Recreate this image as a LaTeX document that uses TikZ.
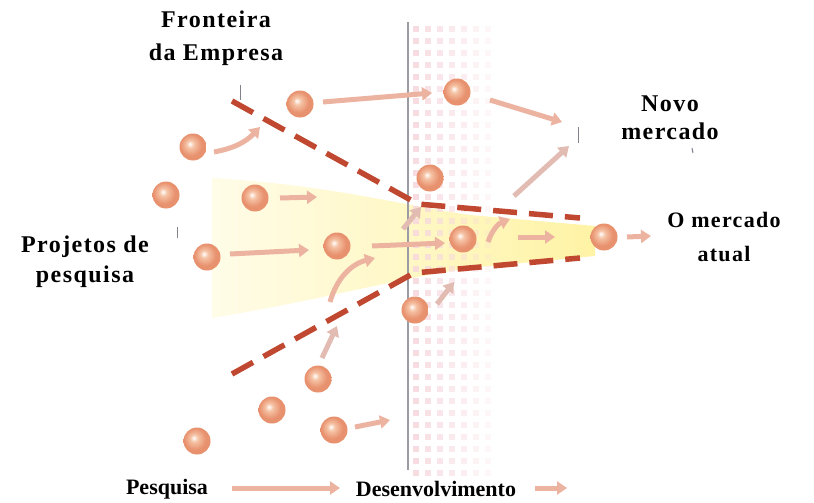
\documentclass[tikz,border=0pt]{standalone}
\usepackage{fontspec}
\setmainfont{Liberation Serif}
\newfontfamily\labfont[LetterSpace=6]{Liberation Serif}
\usetikzlibrary{arrows.meta}
\definecolor{orbedge}{RGB}{232,145,110}
\definecolor{orbmid}{RGB}{245,195,165}
\definecolor{arr}{RGB}{236,180,160}
\definecolor{arrg}{RGB}{226,188,178}
\definecolor{dash}{RGB}{192,72,48}
\definecolor{band}{RGB}{246,216,222}
\definecolor{tick}{RGB}{130,130,140}
\definecolor{yl}{RGB}{255,252,232}
\definecolor{yr}{RGB}{255,243,165}
\pgfdeclareradialshading{orb}{\pgfpoint{-6bp}{6bp}}{color(0bp)=(white); color(7bp)=(orbmid); color(20bp)=(orbedge); color(25bp)=(orbedge); color(50bp)=(orbedge)}
\tikzset{
  orbnode/.style={circle, minimum size=27pt, inner sep=0pt, shading=orb},
  flow/.style={line width=5pt, draw=arr, -{Triangle[length=10pt,width=13pt]}},
  flowg/.style={flow, draw=arrg},
  border/.style={line width=5.5pt, draw=dash, dash pattern=on 24pt off 12pt},
  lab/.style={font=\labfont\fontsize{24}{27}\selectfont\bfseries, inner sep=0pt, align=center},
  lab2/.style={font=\fontsize{22}{26}\selectfont\bfseries, inner sep=0pt, align=center},
  tickmark/.style={draw=tick, line width=1pt}
}
\begin{document}
\begin{tikzpicture}[x=1pt,y=-1pt]
\useasboundingbox (0,0) rectangle (814,503);
\fill[white] (0,0) rectangle (814,503);
% yellow funnel
\shade[left color=yl, right color=yr] (212,178) .. controls (330,185) and (400,205) .. (470,215) -- (595,226) -- (595,256) -- (470,268) .. controls (400,278) and (320,300) .. (212,318) -- cycle;
% dotted band
\foreach \i in {0,...,6}{
  \pgfmathsetmacro{\op}{0.85-0.11*\i}
  \foreach \j in {0,...,37}{
    \fill[band, opacity=\op] (413+12*\i,26+12*\j) rectangle ++(6,6);
  }
}
% frontier line
\draw[draw=tick!80, line width=1.3pt] (408,22) -- (408,470);
% ticks (leader marks)
\draw[tickmark] (240,85) -- (240,100);
\draw[tickmark] (177,227) -- (177,238);
\draw[tickmark] (578,127) -- (578,143);
\draw[tickmark] (692,148) -- (693,153);
% balls
\node[orbnode] (b1) at (300,104) {};
\node[orbnode] (b2) at (457,92) {};
\node[orbnode] (b3) at (193,147) {};
\node[orbnode] (b4) at (166,195) {};
\node[orbnode] (b5) at (255,198) {};
\node[orbnode] (b6) at (430,178) {};
\node[orbnode] (b7) at (207,257) {};
\node[orbnode] (b8) at (337,246) {};
\node[orbnode] (b9) at (463,239) {};
\node[orbnode] (b10) at (604,237) {};
\node[orbnode] (b11) at (415,310) {};
\node[orbnode] (b12) at (318,379) {};
\node[orbnode] (b13) at (272,410) {};
\node[orbnode] (b14) at (334,430) {};
\node[orbnode] (b15) at (197,441) {};
% arrow end points
\coordinate (s1) at (323,102); \coordinate (e1) at (432,93);
\coordinate (s2) at (490,100); \coordinate (e2) at (562,122);
\coordinate (s3) at (214,152); \coordinate (e3) at (260,127);
\coordinate (s4) at (280,198); \coordinate (e4) at (317,197);
\coordinate (s5) at (230,254); \coordinate (e5) at (309,250);
\coordinate (s6) at (372,246); \coordinate (e6) at (445,243);
\coordinate (s7) at (330,302); \coordinate (e7) at (375,258);
\coordinate (s8) at (322,358); \coordinate (e8) at (337,326);
\coordinate (s9) at (355,427); \coordinate (e9) at (390,420);
\coordinate (s10) at (403,229); \coordinate (e10) at (421,207);
\coordinate (s11) at (437,304); \coordinate (e11) at (454,282);
\coordinate (s12) at (488,242); \coordinate (e12) at (510,219);
\coordinate (s13) at (518,237); \coordinate (e13) at (555,237);
\coordinate (s14) at (627,237); \coordinate (e14) at (651,236);
\coordinate (s15) at (514,196); \coordinate (e15) at (569,146);
% flows
\draw[flow] (s1) -- (e1);
\draw[flow] (s2) -- (e2);
\draw[flow] (s3) to[bend right=18] (e3);
\draw[flow] (s4) -- (e4);
\draw[flow] (s5) -- (e5);
\draw[flow] (s6) -- (e6);
\draw[flow] (s7) to[bend left=30] (e7);
\draw[flowg] (s8) -- (e8);
\draw[flow] (s9) -- (e9);
\draw[flowg] (s10) -- (e10);
\draw[flowg] (s11) -- (e11);
\draw[flow] (s12) to[bend left=25] (e12);
\draw[flow] (s13) -- (e13);
\draw[flow] (s14) -- (e14);
\draw[flowg] (s15) -- (e15);
% dashed borders
\coordinate (u1) at (232,101); \coordinate (u2) at (418,204); \coordinate (u3) at (580,218);
\coordinate (l1) at (232,374); \coordinate (l2) at (414,273); \coordinate (l3) at (580,258);
\draw[border] (u1) -- (u2) -- (u3);
\draw[border] (l1) -- (l2) -- (l3);
% labels
\node[lab] (fr) at (216,38) {Fronteira\\[6pt]da Empresa};
\node[lab] (nm) at (670,118) {Novo\\[1pt]mercado};
\node[lab2, font=\labfont\fontsize{22}{26}\selectfont\bfseries] (om) at (724,237) {O mercado\\[8pt]atual};
\node[lab] (pp) at (85,262) {Projetos de\\[3pt]pesquisa};
\node[lab2] (pq) at (167,489) {Pesquisa};
\node[lab2] (de) at (436,489) {Desenvolvimento};
\coordinate (ba1) at (232,488); \coordinate (ba2) at (340,488);
\coordinate (bb1) at (535,488); \coordinate (bb2) at (567,488);
\draw[flow] (ba1) -- (ba2);
\draw[flow] (bb1) -- (bb2);
\end{tikzpicture}
\end{document}
